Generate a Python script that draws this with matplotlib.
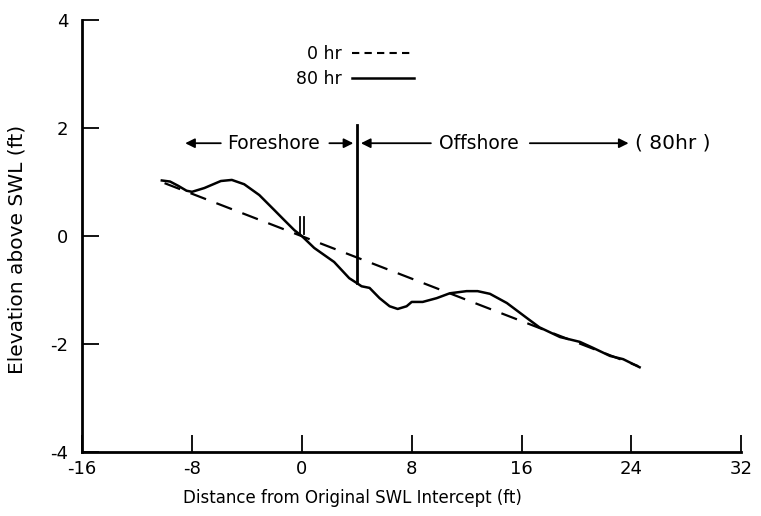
import numpy as np
import matplotlib.pyplot as plt
from matplotlib.lines import Line2D

# initial profile (0 hr): straight slope
x_0hr = [-10.0, 24.5]
y_0hr = [0.98, -2.41]

# profile after 80 hr
x_80hr = [-10.2, -9.6, -9.0, -8.4, -8.0, -7.1, -5.9, -5.1, -4.2, -3.1, -2.0, -1.3,
          -0.55, 0.0, 0.9, 2.35, 3.45, 4.0, 4.35, 4.93, 5.66, 6.39, 6.98, 7.63,
          8.0, 8.8, 9.82, 10.77, 12.0, 12.8, 13.7, 14.93, 16.4, 17.3, 18.8,
          20.25, 21.2, 22.44, 23.4, 24.6]
y_80hr = [1.03, 1.01, 0.93, 0.84, 0.82, 0.89, 1.02, 1.04, 0.96, 0.76, 0.48, 0.30,
          0.11, 0.0, -0.22, -0.48, -0.78, -0.87, -0.93, -0.96, -1.15, -1.30, -1.35,
          -1.30, -1.22, -1.22, -1.15, -1.06, -1.02, -1.02, -1.07, -1.24, -1.52,
          -1.69, -1.87, -1.96, -2.07, -2.22, -2.28, -2.43]

x_ticks = [-16, -8, 0, 8, 16, 24, 32]
y_ticks = [-4, -2, 0, 2, 4]

x_split = 4.0        # foreshore / offshore boundary
y_zone = 1.72        # height of the zone arrows

plt.rcParams['font.family'] = 'DejaVu Sans'
plt.rcParams['axes.unicode_minus'] = False
fig = plt.figure(figsize=(7.61, 5.16), dpi=100)
ax = fig.add_axes([0.108, 0.124, 0.866, 0.837])

ax.plot(x_0hr, y_0hr, color='black', lw=1.6, ls=(0, (7.5, 5)))
ax.plot(x_80hr, y_80hr, color='black', lw=1.8)

# SWL intercept marker
for xm in [-0.1, 0.15]:
    ax.plot([xm, xm], [0.03, 0.35], color='black', lw=1.3)

# boundary between foreshore and offshore
y_b = np.interp(x_split, x_80hr, y_80hr)
ax.plot([x_split, x_split], [y_b, 2.05], color='black', lw=2.0)

arrow = dict(arrowstyle='-|>', color='black', lw=1.3, mutation_scale=14)
fs = 13.5
ax.annotate('', xy=(-8.7, y_zone), xytext=(-5.7, y_zone), arrowprops=arrow)
ax.text(-2.1, y_zone, 'Foreshore', ha='center', va='center', fontsize=fs)
ax.annotate('', xy=(x_split - 0.05, y_zone), xytext=(1.8, y_zone), arrowprops=arrow)
ax.annotate('', xy=(x_split + 0.1, y_zone), xytext=(9.6, y_zone), arrowprops=arrow)
ax.text(12.9, y_zone, 'Offshore', ha='center', va='center', fontsize=fs)
ax.annotate('', xy=(24.0, y_zone), xytext=(16.4, y_zone), arrowprops=arrow)
ax.text(24.3, y_zone, '( 80hr )', ha='left', va='center', fontsize=14.5)

handles = [Line2D([], [], color='black', lw=1.5, ls=(0, (3.5, 2.5))),
           Line2D([], [], color='black', lw=1.8)]
ax.legend(handles, ['0 hr', '80 hr'], loc='upper left', bbox_to_anchor=(0.3, 0.978),
          frameon=False, markerfirst=False, handlelength=3.6, handletextpad=0.6,
          fontsize=12.5, labelspacing=0.4)

ax.set_xlim(-16, 32)
ax.set_ylim(-4, 4)
ax.set_xticks(x_ticks)
ax.set_yticks(y_ticks)
ax.tick_params(direction='in', length=12, width=1.3, labelsize=13)
ax.tick_params(axis='y', pad=10)
ax.tick_params(axis='x', pad=6)
for s in ['top', 'right']:
    ax.spines[s].set_visible(False)
for s in ['left', 'bottom']:
    ax.spines[s].set_linewidth(2.0)

ax.set_xlabel('Distance from Original SWL Intercept (ft)', fontsize=12)
ax.set_ylabel('Elevation above SWL (ft)', fontsize=14.5)
ax.xaxis.set_label_coords(0.41, -0.085)
ax.yaxis.set_label_coords(-0.085, 0.468)

fig.savefig('out.png', dpi=100)
